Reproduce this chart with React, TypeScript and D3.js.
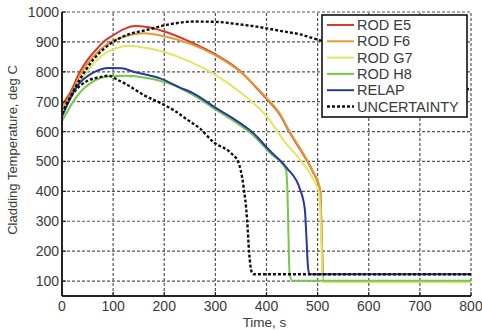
import * as d3 from 'd3';

// time (s) / cladding temperature (deg C)
const rodE5 = [
  [0, 690], [16, 730], [35, 800], [50, 840], [61, 863], [81, 900], [100, 922], [120, 942],
  [143, 953], [166, 950], [200, 935], [250, 901], [300, 858], [350, 800], [381, 745],
  [400, 710], [425, 660], [446, 595], [466, 540], [490, 468], [505, 402], [508, 250],
  [511, 100], [800, 100],
];
const rodF6 = [
  [0, 680], [16, 720], [35, 788], [50, 828], [81, 883], [100, 903], [125, 920], [160, 929],
  [200, 919], [250, 894], [300, 855], [350, 798], [381, 747], [400, 713], [425, 663],
  [446, 598], [466, 543], [490, 470], [505, 404], [508, 250], [511, 100], [800, 100],
];
const rodG7 = [
  [0, 670], [16, 710], [35, 768], [50, 803], [81, 858], [100, 875], [130, 887], [150, 884],
  [200, 866], [250, 834], [300, 790], [350, 730], [400, 652], [436, 565], [466, 505],
  [490, 445], [503, 395], [507, 250], [510, 97], [800, 97],
];
const rodH8 = [
  [0, 635], [29, 718], [61, 768], [94, 785], [127, 787], [166, 779], [211, 760], [257, 722],
  [300, 674], [329, 643], [374, 588], [407, 528], [438, 473], [441, 400], [443, 250],
  [445, 130], [450, 101], [800, 101],
];
const relap = [
  [0, 650], [29, 751], [61, 797], [91, 813], [117, 812], [140, 800], [166, 790], [192, 778],
  [230, 748], [257, 728], [300, 680], [329, 650], [374, 595], [407, 535], [440, 478],
  [466, 405], [475, 340], [478, 250], [481, 150], [484, 123], [800, 123],
];
const uncertaintyUpper = [
  [0, 660], [29, 757], [61, 840], [100, 900], [130, 925], [166, 940], [205, 957], [257, 968],
  [300, 967], [350, 958], [381, 951], [430, 936], [466, 925], [505, 905], [550, 885],
  [600, 860], [650, 830], [700, 800], [750, 770], [800, 738],
];
const uncertaintyLower = [
  [0, 660], [25, 735], [50, 770], [75, 782], [91, 787], [110, 772], [127, 757], [159, 723],
  [192, 696], [220, 670], [245, 640], [270, 610], [296, 565], [329, 530], [345, 497],
  [355, 417], [362, 307], [366, 197], [371, 130], [375, 123], [800, 123],
];

const xTicks = [0, 100, 200, 300, 400, 500, 600, 700, 800];
const yTicks = [100, 200, 300, 400, 500, 600, 700, 800, 900, 1000];

const series = [
  { name: 'ROD E5', data: rodE5, color: '#d8372c', dash: '' },
  { name: 'ROD F6', data: rodF6, color: '#e49a36', dash: '' },
  { name: 'ROD G7', data: rodG7, color: '#e2e661', dash: '' },
  { name: 'ROD H8', data: rodH8, color: '#74c84a', dash: '' },
  { name: 'RELAP', data: relap, color: '#26399c', dash: '' },
  { name: 'UNCERTAINTY', data: uncertaintyUpper, color: '#111111', dash: '3,2' },
];

export default function App() {
  const width = 482;
  const height = 330;
  const margin = { left: 62, right: 11, top: 12, bottom: 34 };

  const x = d3.scaleLinear().domain([0, 800]).range([margin.left, width - margin.right]);
  const y = d3.scaleLinear().domain([50, 1000]).range([height - margin.bottom, margin.top]);

  const line = d3.line<number[]>()
    .x(d => x(d[0]))
    .y(d => y(d[1]))
    .curve(d3.curveMonotoneX);

  const font = 'Liberation Sans, Arial, sans-serif';
  const textColor = '#3a3a3a';
  const gridColor = '#555';

  const lx = 322, ly = 15, lw = 145, lh = 102;

  return (
    <svg width={width} height={height} style={{ position: 'absolute', left: 0, top: 0, background: '#fff' }}>
      {/* grid */}
      {xTicks.filter(t => t > 0).map(t => (
        <line key={'gx' + t} x1={x(t)} x2={x(t)} y1={y(50)} y2={y(1000)}
          stroke={gridColor} strokeWidth={1.2} strokeDasharray="3,2" />
      ))}
      {yTicks.map(t => (
        <line key={'gy' + t} x1={x(0)} x2={x(800)} y1={y(t)} y2={y(t)}
          stroke={gridColor} strokeWidth={1.2} strokeDasharray="3,2" />
      ))}

      {/* curves */}
      {series.slice(0, 5).map(s => (
        <path key={s.name} d={line(s.data) || ''} fill="none" stroke={s.color} strokeWidth={2} />
      ))}
      <path d={line(uncertaintyUpper) || ''} fill="none" stroke="#111" strokeWidth={2.4} strokeDasharray="3,2" />
      <path d={line(uncertaintyLower) || ''} fill="none" stroke="#111" strokeWidth={2.4} strokeDasharray="3,2" />

      {/* axes */}
      <line x1={x(0)} x2={x(0)} y1={y(50)} y2={y(1000)} stroke="#222" strokeWidth={2} />
      <line x1={x(0)} x2={x(800)} y1={y(50)} y2={y(50)} stroke="#222" strokeWidth={2} />
      {xTicks.map(t => (
        <line key={'tx' + t} x1={x(t)} x2={x(t)} y1={y(50)} y2={y(50) - 4} stroke="#222" strokeWidth={1.2} />
      ))}
      {yTicks.map(t => (
        <line key={'ty' + t} x1={x(0)} x2={x(0) + 4} y1={y(t)} y2={y(t)} stroke="#222" strokeWidth={1.2} />
      ))}

      {/* tick labels */}
      {xTicks.map(t => (
        <text key={'lx' + t} x={x(t)} y={y(50) + 15} textAnchor="middle"
          fontFamily={font} fontSize={14} fill={textColor}>{t}</text>
      ))}
      {yTicks.map(t => (
        <text key={'ly' + t} x={x(0) - 3} y={y(t) + 5} textAnchor="end"
          fontFamily={font} fontSize={14} fill={textColor}>{t}</text>
      ))}

      <text x={x(400) - 2} y={327} textAnchor="middle" fontFamily={font} fontSize={13.5} fill={textColor}>Time, s</text>
      <text transform={`translate(17,${(y(50) + y(1000)) / 2 - 4}) rotate(-90)`} textAnchor="middle"
        fontFamily={font} fontSize={13} fill={textColor}>Cladding Temperature, deg C</text>

      {/* legend */}
      <rect x={lx} y={ly} width={lw} height={lh} fill="#fff" stroke="#111" strokeWidth={1.6} />
      {series.map((s, i) => {
        const yy = ly + 10 + i * 16.3;
        return (
          <g key={'lg' + s.name}>
            <line x1={lx + 5} x2={lx + 32} y1={yy} y2={yy} stroke={s.color}
              strokeWidth={s.dash ? 2.4 : 2} strokeDasharray={s.dash || undefined} />
            <text x={lx + 35} y={yy + 5} fontFamily={font} fontSize={14.5} fill={textColor}>{s.name}</text>
          </g>
        );
      })}
    </svg>
  );
}
